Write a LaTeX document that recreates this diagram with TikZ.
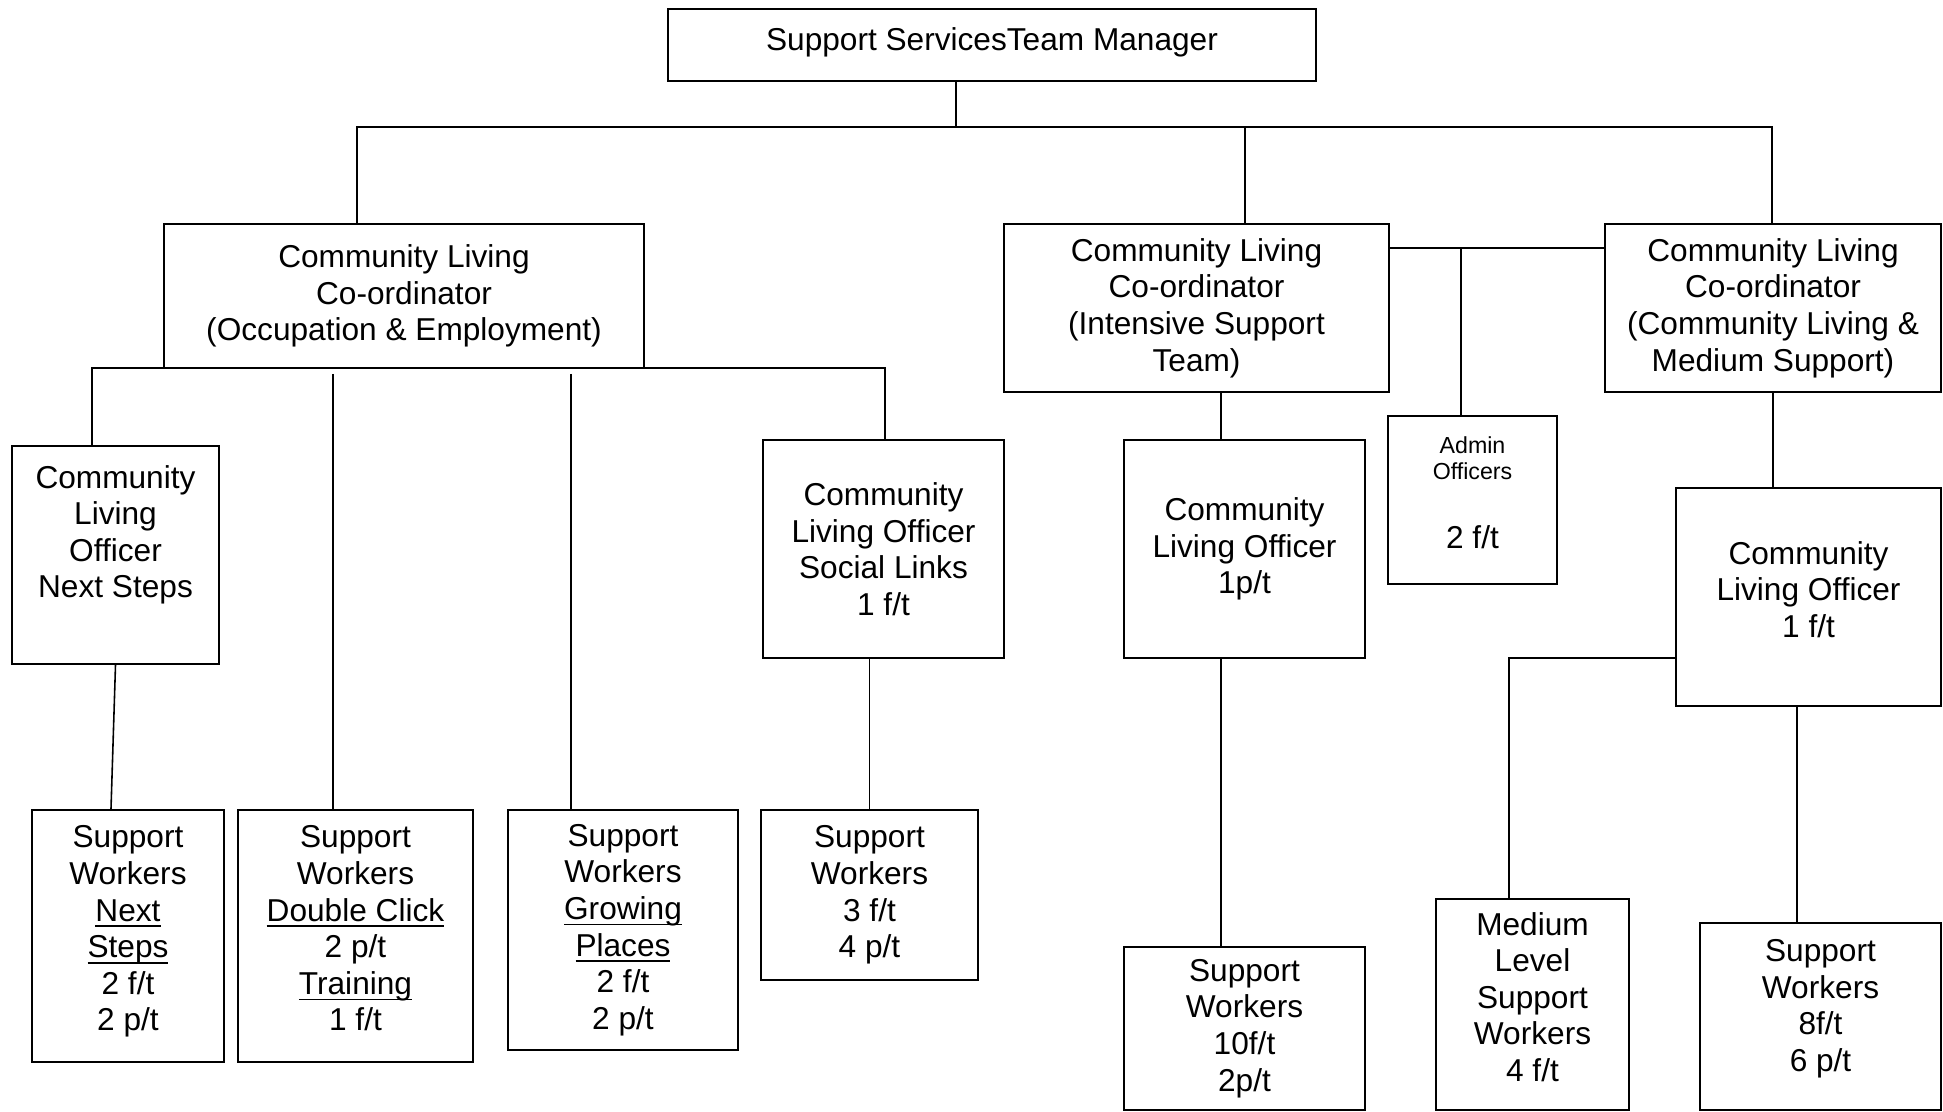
\documentclass[tikz,border=0pt]{standalone}
\usepackage{fontspec}
\setmainfont{Liberation Sans}
\newcommand\ulin[1]{\leavevmode\setbox0\hbox{#1}\rlap{\rule[-1.7pt]{\wd0}{0.45pt}}\box0}
\newcommand\admsize{\fontsize{6.6}{7.4}\selectfont}
\begin{document}
\begin{tikzpicture}[y=-1cm,
  box/.style={draw, rectangle, line width=0.6pt, align=center, inner sep=0pt, font=\fontsize{9}{10.4}\selectfont},
  link/.style={line width=0.45pt}]
\useasboundingbox (0,0) rectangle (19.43,11.12);

% Manager
\node[box, minimum width=6.48cm, minimum height=0.72cm] (manager) at (9.92,0.45) {Support ServicesTeam Manager\\[-7pt]~};

% Co-ordinators
\node[box, minimum width=4.8cm, minimum height=1.44cm] (occ) at (4.04,2.96) {Community Living\\Co-ordinator\\(Occupation \& Employment)};
\node[box, minimum width=3.85cm, minimum height=1.68cm] (int) at (11.965,3.08) {Community Living\\Co-ordinator\\(Intensive Support\\Team)};
\node[box, minimum width=3.36cm, minimum height=1.68cm] (clm) at (17.73,3.08) {Community Living\\Co-ordinator\\(Community Living \&\\Medium Support)};

% Officers
\node[box, minimum width=2.07cm, minimum height=2.18cm] (nsoff) at (1.155,5.55) {Community\\Living\\Officer\\Next Steps\\[3pt]~};
\node[box, minimum width=2.41cm, minimum height=2.18cm] (sloff) at (8.835,5.49) {Community\\Living Officer\\Social Links\\1 f/t};
\node[box, minimum width=2.41cm, minimum height=2.18cm] (intoff) at (12.445,5.49) {Community\\Living Officer\\1p/t};
\node[box, font=\admsize, minimum width=1.69cm, minimum height=1.68cm] (admin) at (14.725,5.00) {Admin\\Officers\\[12.2pt]\fontsize{9}{10.4}\selectfont 2 f/t\\[-3pt]~};
\node[box, minimum width=2.65cm, minimum height=2.18cm] (cloff) at (18.085,5.97) {Community\\Living Officer\\1 f/t\\[-6pt]~};

% Support workers
\node[box, minimum width=1.92cm, minimum height=2.52cm] (nssw) at (1.28,9.36) {Support\\Workers\\\ulin{Next}\\\ulin{Steps}\\2 f/t\\2 p/t\\[-6pt]~};
\node[box, minimum width=2.35cm, minimum height=2.52cm] (dcsw) at (3.555,9.36) {Support\\Workers\\\ulin{Double Click}\\2 p/t\\\ulin{Training}\\1 f/t\\[-6pt]~};
\node[box, minimum width=2.30cm, minimum height=2.40cm] (gpsw) at (6.23,9.30) {Support\\Workers\\\ulin{Growing}\\\ulin{Places}\\2 f/t\\2 p/t};
\node[box, minimum width=2.17cm, minimum height=1.70cm] (slsw) at (8.695,8.95) {Support\\Workers\\3 f/t\\4 p/t};
\node[box, minimum width=2.41cm, minimum height=1.63cm] (intsw) at (12.445,10.285) {Support\\Workers\\10f/t\\2p/t};
\node[box, minimum width=1.93cm, minimum height=2.11cm] (medsw) at (15.325,10.045) {Medium\\Level\\Support\\Workers\\4 f/t\\[-6pt]~};
\node[box, minimum width=2.41cm, minimum height=1.87cm] (clsw) at (18.205,10.165) {Support\\Workers\\8f/t\\6 p/t\\[-4pt]~};

% Top level
\coordinate (mgrx) at (9.56,1.27);
\coordinate (occx) at (3.57,1.27);
\coordinate (intx) at (12.45,1.27);
\coordinate (clmx) at (17.72,1.27);
\draw[link] (manager.south -| mgrx) -- (mgrx);
\draw[link] (occ.north -| occx) -- (occx) -- (clmx) -- (clm.north -| clmx);
\draw[link] (intx) -- (int.north -| intx);

% Co-ordinator link and admin
\coordinate (adminx) at (14.61,2.48);
\draw[link] (int.east |- adminx) -- (clm.west |- adminx);
\draw[link] (adminx) -- (admin.north -| adminx);

% Occupation branch
\coordinate (nsx) at (0.92,3.68);
\coordinate (slx) at (8.85,3.68);
\coordinate (dcx) at (3.33,3.74);
\coordinate (gpx) at (5.71,3.74);
\draw[link] (nsoff.north -| nsx) -- (nsx) -- (slx) -- (sloff.north -| slx);
\draw[link] (dcx) -- (dcsw.north -| dcx);
\draw[link] (gpx) -- (gpsw.north -| gpx);
\draw[link] (nsoff.south) -- ([xshift=-0.17cm]nssw.north);
\draw[link] (sloff.south -| slsw.north) -- (slsw.north);

% Intensive branch
\coordinate (intoffx) at (12.21,0);
\draw[link] (int.south -| intoffx) -- (intoff.north -| intoffx);
\draw[link] (intoff.south -| intoffx) -- (intsw.north -| intoffx);

% Community living branch
\coordinate (medx) at (15.09,6.58);
\coordinate (clswx) at (17.97,0);
\draw[link] (clm.south) -- (clm.south |- cloff.north);
\draw[link] (cloff.west |- medx) -- (medx) -- (medsw.north -| medx);
\draw[link] (cloff.south -| clswx) -- (clsw.north -| clswx);
\end{tikzpicture}
\end{document}
